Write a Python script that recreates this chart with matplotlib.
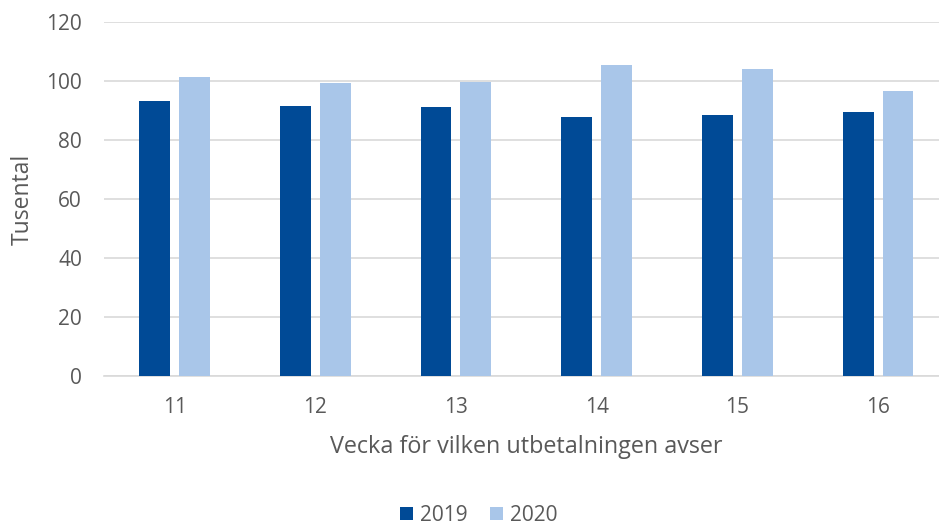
import matplotlib
matplotlib.use('agg')
import matplotlib.pyplot as plt
import numpy as np

# data
weeks = ['11', '12', '13', '14', '15', '16']
values_2019 = [93.2, 91.5, 91.1, 87.7, 88.5, 89.4]
values_2020 = [101.5, 99.2, 99.8, 105.4, 104.1, 96.7]
series_labels = ['2019', '2020']

plt.rcParams['font.family'] = ['Open Sans', 'DejaVu Sans']
text_color = '#595959'
grid_color = '#d9d9d9'

fig = plt.figure(figsize=(9.39, 5.26), dpi=100)
ax = fig.add_axes([0.111, 0.285, 0.899, 0.673])

x = np.arange(len(weeks))
w = 0.22
off = 0.142
ax.bar(x - off, values_2019, width=w, color='#004a96', label=series_labels[0], zorder=3)
ax.bar(x + off, values_2020, width=w, color='#a9c6e9', label=series_labels[1], zorder=3)

ax.set_xlim(-0.5, len(weeks) - 0.5)
ax.set_ylim(0, 120)
ax.set_yticks(range(0, 121, 20))
ax.set_xticks(x)
ax.set_xticklabels(weeks)

ax.grid(axis='y', color=grid_color, linewidth=1.2, zorder=0)
for side in ['top', 'right', 'left']:
    ax.spines[side].set_visible(False)
ax.spines['bottom'].set_color(grid_color)
ax.spines['bottom'].set_linewidth(1.2)
ax.tick_params(axis='both', length=0, labelsize=15, colors=text_color)
ax.tick_params(axis='y', pad=16)
ax.tick_params(axis='x', pad=15)

ax.set_ylabel('Tusental', fontsize=16.5, color=text_color, labelpad=8)
ax.set_xlabel('Vecka för vilken utbetalningen avser', fontsize=16.8, color=text_color, labelpad=12)

fig.legend(loc='lower center', bbox_to_anchor=(0.51, -0.035), ncol=2, frameon=False,
           fontsize=15, handlelength=0.6, handleheight=0.6, handletextpad=0.35,
           columnspacing=1.1, labelcolor=text_color)

fig.savefig('out.png', dpi=100)
